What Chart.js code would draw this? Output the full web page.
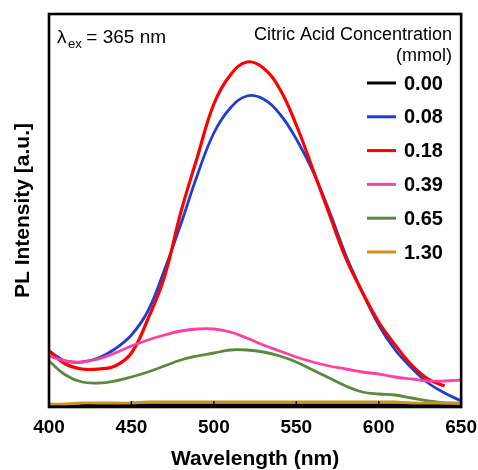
<!DOCTYPE html>
<html>
<head>
<meta charset="utf-8">
<script src="https://cdn.jsdelivr.net/npm/chart.js@4"></script>
<style>
  html, body { margin: 0; padding: 0; background: #fff; }
  #wrap { width: 478px; height: 470px; }
</style>
</head>
<body>
<div id="wrap"><canvas id="pl"></canvas></div>
<script>
const wavelength = [400, 410, 420, 430, 440, 450, 460, 470, 480, 490, 500, 510, 520,
  530, 540, 550, 560, 570, 580, 590, 600, 610, 620, 630, 640, 650];

const conc000 = [2, 2, 2, 2, 2, 2, 2, 2, 2, 2, 2, 2, 2, 2, 2, 2, 2, 2, 2, 2, 2, 2, 2, 2, 2, 2];
const conc008 = [56, 46, 45, 49, 58, 72, 96, 137, 183, 232, 274, 299, 311, 308, 293, 268,
  236, 196, 152, 115, 82, 57, 39, 24, 14, 6];
const conc018 = [56, 43, 38, 38, 41, 54, 88, 130, 195, 250, 303, 332, 345, 339, 318, 282,
  238, 193, 149, 115, 85, 62, 42, 28, 21, null];
const conc039 = [51, 46, 45, 48, 54, 61, 67, 72, 76, 78, 78, 75, 69, 62, 56, 50, 45, 41,
  38, 35, 33, 30, 28, 26, 26, 27];
const conc065 = [46, 32, 25, 24, 26, 30, 35, 41, 47, 51, 54, 57, 57, 55, 51, 45, 37, 29,
  21, 15, 13, 12, 9, 6, 4, 3];
const conc130 = [3, 3, 4, 4, 4, 4, 5, 5, 5, 5, 5, 5, 5, 5, 5, 5, 5, 5, 5, 5, 5, 5, 4, 4, 4, 4];

const seriesLabels = ['0.00', '0.08', '0.18', '0.39', '0.65', '1.30'];
const seriesColors = ['#000000', '#1f3fcf', '#ff0000', '#ff3fa3', '#5a8a3c', '#c8961e'];
const seriesValues = [conc000, conc008, conc018, conc039, conc065, conc130];

const xTicks = [400, 450, 500, 550, 600, 650];
const FONT = '"Liberation Sans", Arial, sans-serif';

const datasets = seriesValues.map((vals, i) => ({
  label: seriesLabels[i],
  data: wavelength.map((w, j) => ({ x: w, y: vals[j] })).filter(p => p.y !== null),
  borderColor: seriesColors[i],
  backgroundColor: seriesColors[i],
  borderWidth: i === 2 ? 3.2 : 2.8,
  pointRadius: 0,
  tension: 0.4,
  order: 6 - i,
}));

// frame, inward ticks, annotation and legend drawn on the canvas
const decorations = {
  id: 'decorations',
  afterDatasetsDraw(chart) {
    const { ctx, chartArea: a, scales } = chart;
    ctx.save();
    // inward tick marks on the bottom axis
    ctx.strokeStyle = '#000';
    ctx.lineWidth = 1.5;
    xTicks.forEach(v => {
      const px = scales.x.getPixelForValue(v);
      ctx.beginPath();
      ctx.moveTo(px, a.bottom);
      ctx.lineTo(px, a.bottom - 6);
      ctx.stroke();
    });
    // box
    ctx.lineWidth = 2.6;
    ctx.strokeRect(a.left, a.top, a.right - a.left, a.bottom - a.top);

    // excitation label
    ctx.fillStyle = '#000';
    ctx.textBaseline = 'alphabetic';
    ctx.textAlign = 'left';
    ctx.font = '19px ' + FONT;
    ctx.fillText('\u03bb', 57, 43);
    ctx.font = '13px ' + FONT;
    ctx.fillText('ex', 68, 48);
    ctx.font = '19px ' + FONT;
    ctx.fillText(' = 365 nm', 81, 43);

    // legend header
    ctx.textAlign = 'right';
    ctx.font = '18px ' + FONT;
    ctx.fillText('Citric Acid Concentration', 452, 40);
    ctx.fillText('(mmol)', 452, 61);

    // legend entries
    ctx.textAlign = 'left';
    ctx.textBaseline = 'middle';
    ctx.font = 'bold 20px ' + FONT;
    chart.data.datasets.forEach((ds, i) => {
      const y = 83 + i * 33.8;
      ctx.strokeStyle = ds.borderColor;
      ctx.lineWidth = 3;
      ctx.beginPath();
      ctx.moveTo(367, y);
      ctx.lineTo(396, y);
      ctx.stroke();
      ctx.fillText(ds.label, 404, y + 1);
    });
    ctx.restore();
  }
};

new Chart(document.getElementById('pl'), {
  type: 'line',
  data: { datasets },
  options: {
    responsive: true,
    maintainAspectRatio: false,
    animation: false,
    layout: { padding: { top: 14, right: 15, left: 0, bottom: 0 } },
    plugins: {
      legend: { display: false },
      tooltip: { enabled: false },
    },
    scales: {
      x: {
        type: 'linear',
        min: 400,
        max: 650,
        afterBuildTicks: s => { s.ticks = xTicks.map(v => ({ value: v })); },
        afterFit: s => { s.height = 63; },
        grid: { display: false },
        border: { display: false },
        ticks: {
          color: '#000',
          padding: 1,
          maxRotation: 0,
          font: { size: 19, weight: 'bold', family: FONT },
        },
        title: {
          display: true,
          text: 'Wavelength (nm)',
          color: '#000',
          padding: { top: 4, bottom: 0 },
          font: { size: 21, weight: 'bold', family: FONT, lineHeight: 1 },
        }
      },
      y: {
        min: 0,
        max: 393,
        afterFit: s => { s.width = 49; },
        grid: { display: false },
        border: { display: false },
        ticks: { display: false },
        title: {
          display: true,
          text: 'PL Intensity [a.u.]',
          color: '#000',
          padding: { top: 11, bottom: 0 },
          font: { size: 21, weight: 'bold', family: FONT },
        }
      }
    }
  },
  plugins: [decorations]
});
</script>
</body>
</html>
